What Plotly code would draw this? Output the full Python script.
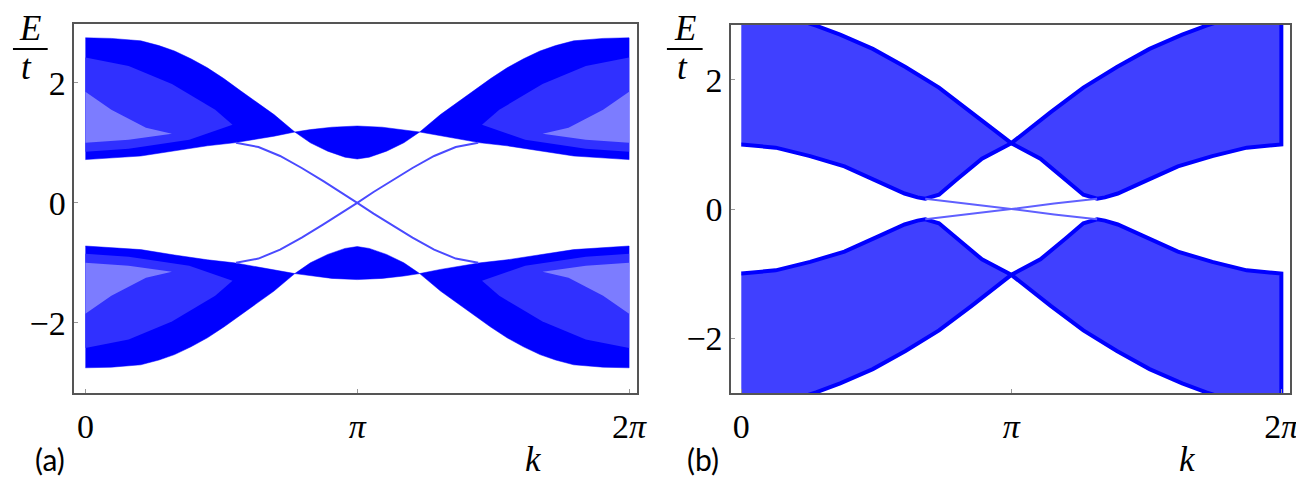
import numpy as np
import plotly.graph_objects as go

PI = np.pi
TWO_PI = 2 * np.pi

# ---------- panel (a): band edges (k in rad, E/t) ----------
ka_top = [0, 0.3, 0.64, 0.85, 1.03, 1.22, 1.41, 1.6, 1.79, 2.0, 2.18, 2.42,
          2.6, 2.85, PI, 3.43, 3.68, 3.863,
          4.103, 4.283, 4.493, 4.683, 4.873, 5.063, 5.253, 5.433, 5.643, 5.983, TWO_PI]
Ea_up_top = [2.75, 2.74, 2.70, 2.62, 2.53, 2.40, 2.25, 2.07, 1.87, 1.66, 1.47, 1.18,
             1.22, 1.26, 1.28, 1.26, 1.22, 1.18,
             1.47, 1.66, 1.87, 2.07, 2.25, 2.40, 2.53, 2.62, 2.70, 2.74, 2.75]
ka_bot = [0, 0.64, 1.03, 1.41, 1.72, 2.0, 2.18, 2.42, 2.6, 2.8, 3.0, PI,
          3.28, 3.48, 3.68, 3.863, 4.103, 4.283, 4.563, 4.873, 5.253, 5.643, TWO_PI]
Ea_up_bot = [0.72, 0.78, 0.87, 0.95, 1.0, 1.07, 1.11, 1.18, 1.0, 0.86, 0.76, 0.73,
             0.76, 0.86, 1.0, 1.18, 1.11, 1.07, 1.0, 0.95, 0.87, 0.78, 0.72]
Ea_lo_top = [-0.72, -0.78, -0.87, -0.95, -1.0, -1.07, -1.11, -1.18, -1.0, -0.86, -0.76, -0.73,
             -0.76, -0.86, -1.0, -1.18, -1.11, -1.07, -1.0, -0.95, -0.87, -0.78, -0.72]
Ea_lo_bot = [-2.75, -2.74, -2.70, -2.62, -2.53, -2.40, -2.25, -2.07, -1.87, -1.66, -1.47, -1.18,
             -1.22, -1.26, -1.28, -1.26, -1.22, -1.18,
             -1.47, -1.66, -1.87, -2.07, -2.25, -2.40, -2.53, -2.62, -2.70, -2.74, -2.75]

# edge states of panel (a)
ka_edge = [1.74, 2.0, 2.25, 2.5, 2.75, 2.95, PI, 3.33, 3.53, 3.78, 4.03, 4.28, 4.54]
Ea_edge_down = [1.0, 0.93, 0.78, 0.58, 0.36, 0.18, 0.0, -0.18, -0.36, -0.58, -0.78, -0.93, -1.0]
Ea_edge_up = [-1.0, -0.93, -0.78, -0.58, -0.36, -0.18, 0.0, 0.18, 0.36, 0.58, 0.78, 0.93, 1.0]

# lighter (sparse line) patches near the zone edges in panel (a)
stripe_k_left = [0, 0, 0.5, 1.0, 1.5, 1.7, 1.2, 0.5]
stripe_k_right = [TWO_PI, TWO_PI, 5.783, 5.283, 4.783, 4.583, 5.083, 5.783]
stripe_E_up = [0.85, 2.42, 2.28, 1.98, 1.55, 1.3, 1.05, 0.9]
stripe_E_lo = [-0.85, -2.42, -2.28, -1.98, -1.55, -1.3, -1.05, -0.9]
light_k_left = [0, 0, 0.3, 0.7, 1.0, 0.5]
light_k_right = [TWO_PI, TWO_PI, 5.983, 5.583, 5.283, 5.783]
light_E_up = [1.0, 1.85, 1.55, 1.25, 1.15, 1.05]
light_E_lo = [-1.0, -1.85, -1.55, -1.25, -1.15, -1.05]

# ---------- panel (b) ----------
kb_top = [0, 0.5, 0.87, 1.15, 1.53, 1.91, 2.30, 2.68, PI, 3.60, 3.98, 4.37, 4.75, 5.13, 5.41, 5.78, TWO_PI]
Eb_up_top = [3.05, 3.0, 2.84, 2.7, 2.48, 2.2, 1.88, 1.5, 1.02, 1.5, 1.88, 2.2, 2.48, 2.7, 2.84, 3.0, 3.05]
kb_bot = [0, 0.4, 0.8, 1.2, 1.6, 1.9, 2.05, 2.14, 2.3, 2.5, 2.8, PI,
          3.48, 3.78, 3.98, 4.14, 4.23, 4.38, 4.68, 5.08, 5.48, 5.88, TWO_PI]
Eb_up_bot = [1.0, 0.95, 0.82, 0.66, 0.42, 0.24, 0.18, 0.16, 0.22, 0.45, 0.78, 1.02,
             0.78, 0.45, 0.22, 0.16, 0.18, 0.24, 0.42, 0.66, 0.82, 0.95, 1.0]
Eb_lo_top = [-1.0, -0.95, -0.82, -0.66, -0.42, -0.24, -0.18, -0.16, -0.22, -0.45, -0.78, -1.02,
             -0.78, -0.45, -0.22, -0.16, -0.18, -0.24, -0.42, -0.66, -0.82, -0.95, -1.0]
Eb_lo_bot = [-3.05, -3.0, -2.84, -2.7, -2.48, -2.2, -1.88, -1.5, -1.02, -1.5, -1.88, -2.2,
             -2.48, -2.7, -2.84, -3.0, -3.05]

kb_edge = [2.14, 2.64, PI, 3.64, 4.14]
Eb_edge_down = [0.16, 0.085, 0.0, -0.085, -0.16]
Eb_edge_up = [-0.16, -0.085, 0.0, 0.085, 0.16]

BLUE = "#0000ff"
W, H = 1304, 477
SERIF = "Liberation Serif"


def band(fig, k_a, e_a, k_b, e_b, xa, ya, fill, edge=None):
    # polygon = one edge forward, other edge backward
    x = list(k_a) + list(k_b)[::-1]
    y = list(e_a) + list(e_b)[::-1]
    fig.add_trace(go.Scatter(
        x=x, y=y, mode="lines", fill="toself", fillcolor=fill,
        line=dict(color=edge or fill, width=4 if edge else 0.5),
        xaxis=xa, yaxis=ya, showlegend=False, hoverinfo="skip"))


def patch(fig, k, e, xa, ya, color):
    fig.add_trace(go.Scatter(
        x=k, y=e, mode="lines", fill="toself", fillcolor=color,
        line=dict(width=0), xaxis=xa, yaxis=ya, showlegend=False, hoverinfo="skip"))


def edge_line(fig, k, e, xa, ya, color):
    fig.add_trace(go.Scatter(
        x=k, y=e, mode="lines", line=dict(color=color, width=2),
        xaxis=xa, yaxis=ya, showlegend=False, hoverinfo="skip"))


fig = go.Figure()

# panel (a)
band(fig, ka_top, Ea_up_top, ka_bot, Ea_up_bot, "x", "y", BLUE)
band(fig, ka_bot, Ea_lo_top, ka_top, Ea_lo_bot, "x", "y", BLUE)
for kk in (stripe_k_left, stripe_k_right):
    patch(fig, kk, stripe_E_up, "x", "y", "#3030ff")
    patch(fig, kk, stripe_E_lo, "x", "y", "#3030ff")
for kk in (light_k_left, light_k_right):
    patch(fig, kk, light_E_up, "x", "y", "#7c7cff")
    patch(fig, kk, light_E_lo, "x", "y", "#7c7cff")
edge_line(fig, ka_edge, Ea_edge_down, "x", "y", "#4a4aff")
edge_line(fig, ka_edge, Ea_edge_up, "x", "y", "#4a4aff")

# panel (b)
band(fig, kb_top, Eb_up_top, kb_bot, Eb_up_bot, "x2", "y2", "#4040ff", BLUE)
band(fig, kb_bot, Eb_lo_top, kb_top, Eb_lo_bot, "x2", "y2", "#4040ff", BLUE)
edge_line(fig, kb_edge, Eb_edge_down, "x2", "y2", "#6060ff")
edge_line(fig, kb_edge, Eb_edge_up, "x2", "y2", "#6060ff")

tick_font = dict(family=SERIF, size=34, color="black")
axis_common = dict(showgrid=False, zeroline=False, showline=True, mirror=True,
                   linecolor="#555555", linewidth=2, ticks="inside", ticklen=4,
                   tickcolor="#999999", tickfont=tick_font)
xt = dict(tickvals=[0, PI, TWO_PI], ticktext=["0", "<i>π</i>", "2<i>π</i>"], ticklabelstandoff=2)
yt = dict(tickvals=[-2, 0, 2], ticktext=["−2", "0", "2"])

fig.update_layout(
    width=W, height=H, margin=dict(l=0, r=0, t=0, b=0),
    paper_bgcolor="white", plot_bgcolor="white",
    xaxis=dict(domain=[67 / W, 634 / W], range=[-0.126, 6.376], anchor="y", **xt, **axis_common),
    yaxis=dict(domain=[1 - 385 / H, 1 - 16 / H], range=[-3.17, 2.98], anchor="x", **yt, **axis_common),
    xaxis2=dict(domain=[729 / W, 1292 / W], range=[-0.115, 6.385], anchor="y2", **xt, **axis_common),
    yaxis2=dict(domain=[1 - 385 / H, 1 - 17 / H], range=[-2.85, 2.85], anchor="x2", **yt, **axis_common),
)

serif_i = dict(family=SERIF, size=35, color="black")
sans = dict(family="Lato", size=30, color="black")


def label(px, py, text, font):
    fig.add_annotation(x=px / W, y=1 - py / H, xref="paper", yref="paper",
                       text=text, showarrow=False, font=font,
                       xanchor="center", yanchor="middle")


# E/t fractions
for x0, x1, xe, xt_ in ((5, 40, 22, 19), (664, 700, 682, 680)):
    label(xe, 21, "<i>E</i>", serif_i)
    label(xt_, 60, "<i>t</i>", serif_i)
    fig.add_shape(type="line", xref="paper", yref="paper",
                  x0=x0 / W, x1=x1 / W, y0=1 - 41 / H, y1=1 - 41 / H,
                  line=dict(color="black", width=2))

label(530, 451, "<i>k</i>", serif_i)
label(1189, 451, "<i>k</i>", serif_i)
label(42, 451, "(a)", sans)
label(700, 451, "(b)", sans)

fig.write_html("out.html")
